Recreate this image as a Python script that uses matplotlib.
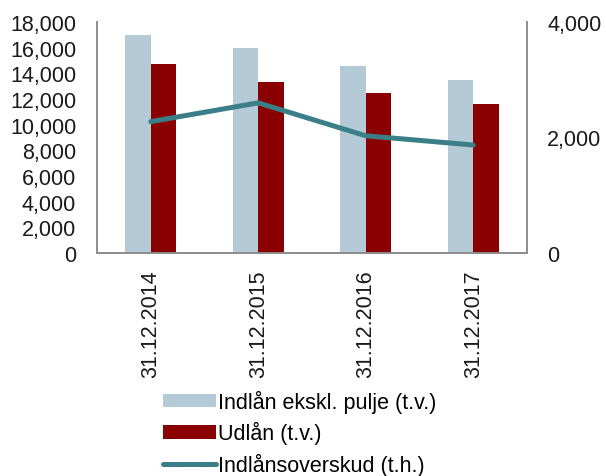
import matplotlib
matplotlib.use("Agg")
import matplotlib.pyplot as plt
import numpy as np
from matplotlib.patches import Patch
from matplotlib.lines import Line2D

plt.rcParams['font.family'] = ['Liberation Sans', 'DejaVu Sans']

categories = ["31.12.2014", "31.12.2015", "31.12.2016", "31.12.2017"]
indlaan = [17000, 15950, 14550, 13480]
udlaan = [14730, 13330, 12470, 11580]
overskud = [2275, 2600, 2030, 1870]
left_ticks = list(range(0, 18001, 2000))
right_ticks = [0, 2000, 4000]

c_blue = "#B4CAD7"
c_red = "#8A0000"
c_teal = "#3A7F88"
c_spine = "#8C8C8C"

fig = plt.figure(figsize=(6.06, 4.77), dpi=100)
ax = fig.add_axes([97/606, 1-254/477, 430/606, 231/477])
ax2 = ax.twinx()

x = np.arange(len(categories))
w = 0.237
ax.bar(x - w/2, indlaan, width=w, color=c_blue, zorder=2)
ax.bar(x + w/2, udlaan, width=w, color=c_red, zorder=2)
ax2.plot(x, overskud, color=c_teal, lw=3.6, solid_capstyle='round', solid_joinstyle='round')

ax.set_xlim(-0.5, len(categories) - 0.5)
ax.set_ylim(0, 18000)
ax2.set_ylim(0, 4000)
ax.set_yticks(left_ticks)
ax.set_yticklabels([f"{v:,}" for v in left_ticks])
ax2.set_yticks(right_ticks)
ax2.set_yticklabels([f"{v:,}" for v in right_ticks])
ax.set_xticks(x)
ax.set_xticklabels(categories, rotation=90)

fs = 15.5
ax.tick_params(axis='y', length=0, pad=15, labelsize=fs, colors='#1a1a1a')
ax2.tick_params(axis='y', length=0, pad=14.5, labelsize=fs, colors='#1a1a1a')
ax.tick_params(axis='x', length=0, pad=12, labelsize=fs, colors='#1a1a1a')

for a in (ax, ax2):
    a.spines['top'].set_visible(False)
    for s in ('left', 'right', 'bottom'):
        a.spines[s].set_color(c_spine)
        a.spines[s].set_linewidth(1.2)

handles = [Patch(facecolor=c_blue, edgecolor='none'),
           Patch(facecolor=c_red, edgecolor='none'),
           Line2D([0], [0], color=c_teal, lw=3.6, solid_capstyle='round')]
labels = ["Indlån ekskl. pulje (t.v.)", "Udlån (t.v.)", "Indlånsoverskud (t.h.)"]
fig.legend(handles, labels, loc='upper left', bbox_to_anchor=(163/606, 1-391/477),
           frameon=False, fontsize=fs, handlelength=2.45, handleheight=0.6,
           handletextpad=0.1, labelspacing=0.38, borderaxespad=0, borderpad=0)

fig.savefig("out.png", dpi=100)
